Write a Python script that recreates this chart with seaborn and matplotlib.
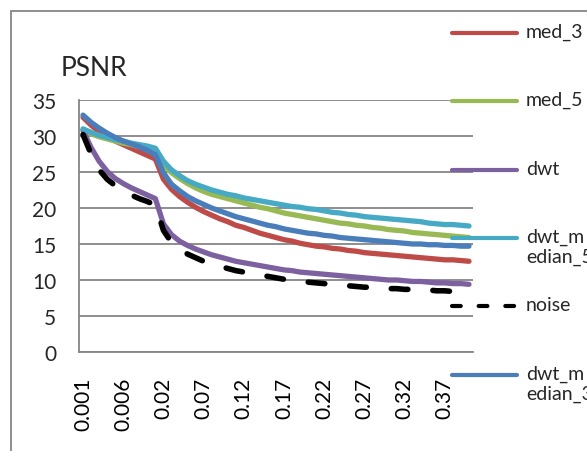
import numpy as np
import pandas as pd
import matplotlib
matplotlib.use("Agg")
import matplotlib.pyplot as plt
import seaborn as sns
from matplotlib.lines import Line2D
from matplotlib.patches import Rectangle

# Noise density levels (category axis)
categories = ["0.001", "0.002", "0.003", "0.004", "0.005", "0.006", "0.007", "0.008", "0.009", "0.01",
              "0.02", "0.03", "0.04", "0.05", "0.06", "0.07", "0.08", "0.09", "0.1", "0.11",
              "0.12", "0.13", "0.14", "0.15", "0.16", "0.17", "0.18", "0.19", "0.2", "0.21",
              "0.22", "0.23", "0.24", "0.25", "0.26", "0.27", "0.28", "0.29", "0.3", "0.31",
              "0.32", "0.33", "0.34", "0.35", "0.36", "0.37", "0.38", "0.39", "0.4"]

med_3 = [32.6, 31.5, 30.6, 29.9, 29.3, 28.8, 28.3, 27.8, 27.3, 26.8,
         24.0, 22.6, 21.6, 20.8, 20.1, 19.5, 19.0, 18.5, 18.1, 17.6,
         17.3, 16.9, 16.5, 16.2, 15.9, 15.6, 15.4, 15.1, 14.9, 14.7,
         14.6, 14.4, 14.3, 14.1, 14.0, 13.8, 13.7, 13.6, 13.5, 13.4,
         13.3, 13.2, 13.1, 13.0, 12.9, 12.8, 12.8, 12.7, 12.6]

med_5 = [30.8, 30.3, 29.9, 29.6, 29.3, 29.0, 28.8, 28.5, 28.2, 27.9,
         26.0, 24.9, 24.1, 23.4, 22.8, 22.3, 21.9, 21.6, 21.3, 21.0,
         20.7, 20.4, 20.1, 19.9, 19.6, 19.3, 19.1, 18.9, 18.7, 18.5,
         18.3, 18.1, 17.9, 17.8, 17.6, 17.5, 17.3, 17.2, 17.0, 16.9,
         16.8, 16.6, 16.5, 16.4, 16.3, 16.2, 16.1, 16.0, 15.9]

dwt = [30.8, 28.4, 26.5, 25.1, 24.1, 23.4, 22.8, 22.3, 21.8, 21.3,
       17.8, 16.3, 15.4, 14.8, 14.3, 13.9, 13.5, 13.2, 12.9, 12.6,
       12.4, 12.2, 12.0, 11.8, 11.6, 11.4, 11.3, 11.1, 11.0, 10.9,
       10.8, 10.7, 10.6, 10.5, 10.4, 10.3, 10.2, 10.1, 10.0, 10.0,
       9.9, 9.8, 9.8, 9.7, 9.6, 9.6, 9.5, 9.5, 9.4]

dwt_median_5 = [31.0, 30.5, 30.1, 29.8, 29.5, 29.3, 29.0, 28.8, 28.6, 28.3,
                26.5, 25.3, 24.5, 23.8, 23.3, 22.9, 22.5, 22.2, 21.9, 21.7,
                21.4, 21.2, 21.0, 20.8, 20.6, 20.4, 20.2, 20.1, 19.9, 19.8,
                19.6, 19.4, 19.3, 19.1, 19.0, 18.8, 18.7, 18.6, 18.5, 18.4,
                18.3, 18.2, 18.1, 17.9, 17.8, 17.7, 17.7, 17.6, 17.5]

noise = [30.2, 27.5, 25.3, 24.0, 23.1, 22.4, 21.8, 21.3, 20.9, 20.4,
         16.9, 15.2, 14.3, 13.6, 13.1, 12.6, 12.2, 11.9, 11.6, 11.3,
         11.1, 10.9, 10.7, 10.5, 10.3, 10.1, 10.0, 9.8, 9.7, 9.6,
         9.5, 9.4, 9.3, 9.2, 9.1, 9.0, 9.0, 8.9, 8.8, 8.8,
         8.7, 8.7, 8.6, 8.6, 8.5, 8.5, 8.4, 8.4, 8.3]

dwt_median_3 = [32.9, 31.9, 31.1, 30.4, 29.8, 29.3, 28.9, 28.5, 28.0, 27.4,
                24.9, 23.3, 22.4, 21.6, 21.0, 20.5, 20.0, 19.6, 19.2, 18.8,
                18.5, 18.2, 17.9, 17.6, 17.4, 17.1, 16.9, 16.7, 16.5, 16.4,
                16.2, 16.1, 15.9, 15.8, 15.7, 15.6, 15.5, 15.4, 15.3, 15.2,
                15.1, 15.0, 15.0, 14.9, 14.9, 14.8, 14.8, 14.7, 14.7]

series_names = ["med_3", "med_5", "dwt", "dwt_median_5", "noise", "dwt_median_3"]
legend_labels = ["med_3", "med_5", "dwt", "dwt_m\nedian_5", "noise", "dwt_m\nedian_3"]
colors = ["#BE4B48", "#98B954", "#7D60A0", "#46AAC5", "#000000", "#4A7EBB"]

df = pd.DataFrame({
    "pos": np.arange(len(categories)),
    "med_3": med_3, "med_5": med_5, "dwt": dwt,
    "dwt_median_5": dwt_median_5, "noise": noise, "dwt_median_3": dwt_median_3,
})

sns.set_style("white")
plt.rcParams["font.family"] = ["Lato", "DejaVu Sans"]

W, H = 587, 452
fig = plt.figure(figsize=(W / 100, H / 100), dpi=100)

def fx(x):
    return x / W

def fy(y):
    return 1 - y / H

ax = fig.add_axes([fx(79), fy(353), fx(473) - fx(79), fy(101) - fy(353)])

grid_col = "#868686"
for name, col in zip(series_names, colors):
    if name == "noise":
        sns.lineplot(data=df, x="pos", y=name, ax=ax, color=col, lw=4.0,
                     linestyle=(0, (3.0, 4.5)), dash_capstyle="round", legend=False)
    else:
        sns.lineplot(data=df, x="pos", y=name, ax=ax, color=col, lw=3.8,
                     solid_capstyle="round", solid_joinstyle="round", legend=False)

n = len(categories)
ax.set_xlim(-0.5, n - 0.5)
ax.set_ylim(0, 35)
ax.set_yticks(np.arange(0, 36, 5))
ax.set_xticks(np.arange(0, n, 5))
ax.set_xticklabels([categories[i] for i in range(0, n, 5)], rotation=90)
ax.set_xticks(np.arange(-0.5, n, 1), minor=True)
ax.tick_params(axis="x", which="major", length=0, pad=18, labelsize=15, colors="black")
ax.tick_params(axis="x", which="minor", length=4.5, width=1.0, color=grid_col, direction="out")
ax.tick_params(axis="y", which="major", length=4.5, width=1.0, color=grid_col, pad=12,
               labelsize=15, direction="out")
ax.set_xlabel("")
ax.set_ylabel("")
ax.grid(axis="y", color=grid_col, lw=1.3)
ax.grid(axis="x", visible=False)
ax.set_axisbelow(True)
for s in ["top", "right"]:
    ax.spines[s].set_visible(False)
for s in ["left", "bottom"]:
    ax.spines[s].set_color(grid_col)
    ax.spines[s].set_linewidth(1.3)

# axis title
fig.text(fx(61), fy(76), "PSNR", fontsize=19, ha="left", va="baseline")

# chart area border
fig.add_artist(Rectangle((fx(11), fy(520)), 1.0, fy(12) - fy(520), fill=False,
                         edgecolor=grid_col, lw=1.3, transform=fig.transFigure, clip_on=False))

# legend on the right
leg_y = [34, 102, 171, 239, 307, 376]
for lab, col, y, name in zip(legend_labels, colors, leg_y, series_names):
    if name == "noise":
        ln = Line2D([fx(452), fx(517)], [fy(y), fy(y)], transform=fig.transFigure,
                    color=col, lw=3.0, linestyle=(0, (2.1, 4.3)), dash_capstyle="round")
    else:
        ln = Line2D([fx(452), fx(517)], [fy(y), fy(y)], transform=fig.transFigure,
                    color=col, lw=3.0, solid_capstyle="round")
    fig.add_artist(ln)
    fig.text(fx(526), fy(y - 10), lab, fontsize=14, ha="left", va="top", linespacing=1.2)

fig.savefig("out.png", dpi=100)
